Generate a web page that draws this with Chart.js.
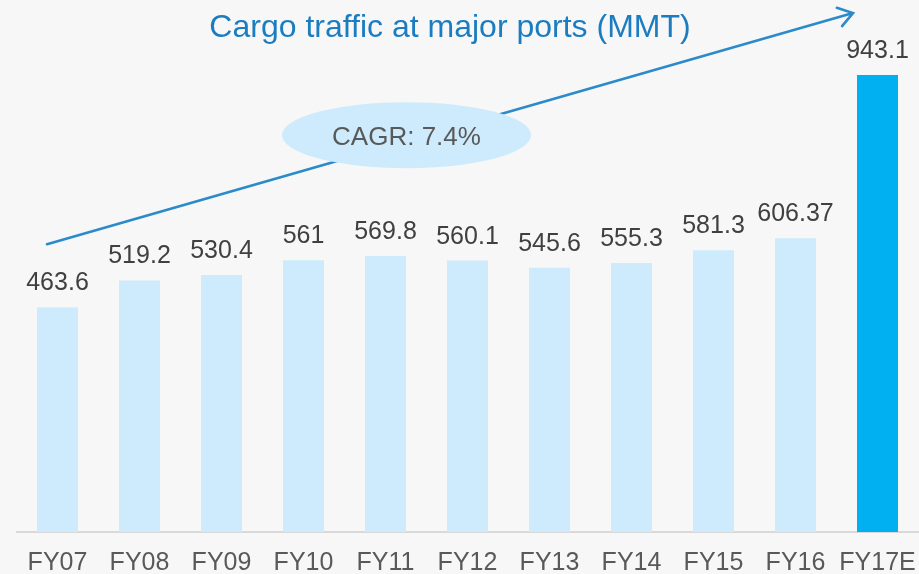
<!DOCTYPE html>
<html>
<head>
<meta charset="utf-8">
<script src="https://cdn.jsdelivr.net/npm/chart.js@4.4.1/dist/chart.umd.min.js"></script>
<style>
html,body{margin:0;padding:0;background:#f7f7f7;overflow:hidden;}
canvas{display:block;}
</style>
</head>
<body>
<canvas id="c" width="919" height="574"></canvas>
<script>
const categories = ["FY07","FY08","FY09","FY10","FY11","FY12","FY13","FY14","FY15","FY16","FY17E"];
const cargoValues = [463.6, 519.2, 530.4, 561, 569.8, 560.1, 545.6, 555.3, 581.3, 606.37, 943.1];
const valueLabels = ["463.6","519.2","530.4","561","569.8","560.1","545.6","555.3","581.3","606.37","943.1"];
const titleText = "Cargo traffic at major ports (MMT)";
const cagrText = "CAGR: 7.4%";

const FONT = "'Liberation Sans', Arial, sans-serif";
const barColors = categories.map((c, i) => i === categories.length - 1 ? "#00b0f0" : "#cdebfc");

const decoPlugin = {
  id: "deco",
  beforeDraw(chart) {
    const ctx = chart.ctx;
    ctx.save();
    ctx.fillStyle = "#f7f7f7";
    ctx.fillRect(0, 0, chart.width, chart.height);
    ctx.restore();
  },
  afterDatasetsDraw(chart) {
    const ctx = chart.ctx;
    const xs = chart.scales.x, ys = chart.scales.y;
    const meta = chart.getDatasetMeta(0);
    ctx.save();
    // data labels
    ctx.font = "25px " + FONT;
    ctx.fillStyle = "#404040";
    ctx.textAlign = "center";
    ctx.textBaseline = "alphabetic";
    meta.data.forEach((bar, i) => {
      ctx.fillText(valueLabels[i], bar.x, bar.y - 17);
    });
    // growth arrow
    const x0 = xs.getPixelForValue(0) - 10.5, y0 = ys.getPixelForValue(594);
    const x1 = xs.getPixelForValue(10) - 24.5, y1 = ys.getPixelForValue(1071);
    ctx.strokeStyle = "#2b8bca";
    ctx.lineWidth = 2.6;
    ctx.lineCap = "round";
    ctx.beginPath();
    ctx.moveTo(x0, y0);
    ctx.lineTo(x1, y1);
    const ang = Math.atan2(y0 - y1, x0 - x1);
    const L = 17, spread = 34 * Math.PI / 180;
    ctx.moveTo(x1 + L * Math.cos(ang + spread), y1 + L * Math.sin(ang + spread));
    ctx.lineTo(x1, y1);
    ctx.lineTo(x1 + L * Math.cos(ang - spread), y1 + L * Math.sin(ang - spread));
    ctx.stroke();
    // CAGR ellipse
    const ex = (xs.getPixelForValue(4) + xs.getPixelForValue(5)) / 2 - 20;
    const ey = ys.getPixelForValue(819);
    ctx.fillStyle = "#cdebfc";
    ctx.beginPath();
    ctx.ellipse(ex, ey, 124.5, 33, 0, 0, Math.PI * 2);
    ctx.fill();
    ctx.fillStyle = "#595959";
    ctx.font = "26px " + FONT;
    ctx.textAlign = "center";
    ctx.fillText(cagrText, ex, ey + 10);
    // title
    ctx.fillStyle = "#1b7dc0";
    ctx.font = "32px " + FONT;
    ctx.fillText(titleText, 450, 37);
    ctx.restore();
  }
};

new Chart(document.getElementById("c"), {
  type: "bar",
  data: {
    labels: categories,
    datasets: [{
      data: cargoValues,
      backgroundColor: barColors,
      borderWidth: 0,
      barPercentage: 0.5,
      categoryPercentage: 1.0
    }]
  },
  options: {
    responsive: false,
    animation: false,
    devicePixelRatio: 1,
    layout: { padding: { left: 16.5, right: 0.5, top: 0, bottom: 0 } },
    plugins: { legend: { display: false }, tooltip: { enabled: false }, title: { display: false } },
    scales: {
      x: {
        grid: { display: false },
        border: { display: true, color: "#d9d9d9", width: 2 },
        ticks: { color: "#595959", font: { family: FONT, size: 25 }, padding: 8, maxRotation: 0, autoSkip: false },
        afterFit(scale) { scale.height = 42; scale.paddingLeft = 0; scale.paddingRight = 0; }
      },
      y: {
        display: false,
        min: 0,
        max: 1098
      }
    }
  },
  plugins: [decoPlugin]
});
</script>
</body>
</html>
